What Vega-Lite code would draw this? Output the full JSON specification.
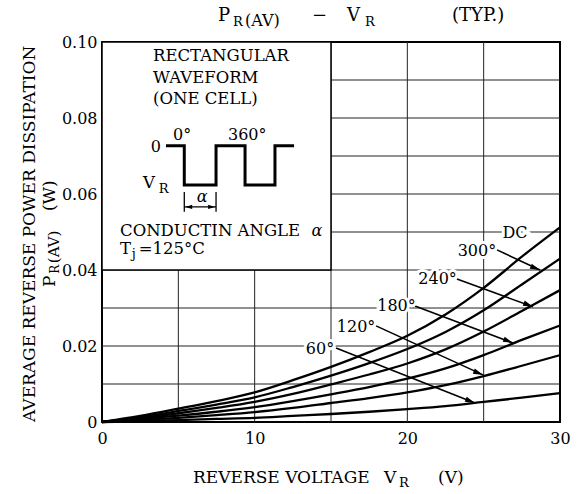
{
  "$schema": "https://vega.github.io/schema/vega-lite/v6.json",
  "width": 458,
  "height": 380,
  "autosize": {"type": "none"},
  "padding": {"left": 102, "top": 42, "right": 19, "bottom": 72},
  "background": "white",
  "config": {
    "font": "DejaVu Serif",
    "view": {"stroke": "#000", "strokeWidth": 2},
    "axis": {"domain": false, "ticks": false, "grid": false, "labelColor": "#000", "labelFont": "DejaVu Serif", "labelFontSize": 16, "labelOverlap": false, "title": null}
  },
  "datasets": {
    "vgrid": [{"x": 5}, {"x": 10}, {"x": 15}, {"x": 20}, {"x": 25}],
    "hgrid": [{"y": 0.01}, {"y": 0.02}, {"y": 0.03}, {"y": 0.04}, {"y": 0.05}, {"y": 0.06}, {"y": 0.07}, {"y": 0.08}, {"y": 0.09}],
    "box": [{"x": 0, "x2": 15, "y": 0.04, "y2": 0.1}],
    "curves": [
      {"c": "DC", "x": 0, "y": 0}, {"c": "DC", "x": 2.5, "y": 0.0016}, {"c": "DC", "x": 5, "y": 0.0035}, {"c": "DC", "x": 7.5, "y": 0.0055}, {"c": "DC", "x": 10, "y": 0.0078}, {"c": "DC", "x": 12.5, "y": 0.011}, {"c": "DC", "x": 15, "y": 0.0145}, {"c": "DC", "x": 17.5, "y": 0.0184}, {"c": "DC", "x": 20, "y": 0.0227}, {"c": "DC", "x": 22.5, "y": 0.0283}, {"c": "DC", "x": 25, "y": 0.0353}, {"c": "DC", "x": 27.5, "y": 0.0435}, {"c": "DC", "x": 30, "y": 0.0512},
      {"c": "300", "x": 0, "y": 0}, {"c": "300", "x": 2.5, "y": 0.0013}, {"c": "300", "x": 5, "y": 0.0029}, {"c": "300", "x": 7.5, "y": 0.0046}, {"c": "300", "x": 10, "y": 0.0065}, {"c": "300", "x": 12.5, "y": 0.0092}, {"c": "300", "x": 15, "y": 0.0122}, {"c": "300", "x": 17.5, "y": 0.0155}, {"c": "300", "x": 20, "y": 0.0192}, {"c": "300", "x": 22.5, "y": 0.0237}, {"c": "300", "x": 25, "y": 0.0294}, {"c": "300", "x": 27.5, "y": 0.0362}, {"c": "300", "x": 30, "y": 0.043},
      {"c": "240", "x": 0, "y": 0}, {"c": "240", "x": 2.5, "y": 0.0011}, {"c": "240", "x": 5, "y": 0.0023}, {"c": "240", "x": 7.5, "y": 0.0037}, {"c": "240", "x": 10, "y": 0.0053}, {"c": "240", "x": 12.5, "y": 0.0074}, {"c": "240", "x": 15, "y": 0.0099}, {"c": "240", "x": 17.5, "y": 0.0125}, {"c": "240", "x": 20, "y": 0.0154}, {"c": "240", "x": 22.5, "y": 0.0191}, {"c": "240", "x": 25, "y": 0.0238}, {"c": "240", "x": 27.5, "y": 0.0292}, {"c": "240", "x": 30, "y": 0.0347},
      {"c": "180", "x": 0, "y": 0}, {"c": "180", "x": 2.5, "y": 0.0008}, {"c": "180", "x": 5, "y": 0.0017}, {"c": "180", "x": 7.5, "y": 0.0027}, {"c": "180", "x": 10, "y": 0.0039}, {"c": "180", "x": 12.5, "y": 0.0055}, {"c": "180", "x": 15, "y": 0.0073}, {"c": "180", "x": 17.5, "y": 0.0092}, {"c": "180", "x": 20, "y": 0.0114}, {"c": "180", "x": 22.5, "y": 0.0141}, {"c": "180", "x": 25, "y": 0.0176}, {"c": "180", "x": 27.5, "y": 0.0216}, {"c": "180", "x": 30, "y": 0.0254},
      {"c": "120", "x": 0, "y": 0}, {"c": "120", "x": 2.5, "y": 0.0005}, {"c": "120", "x": 5, "y": 0.0011}, {"c": "120", "x": 7.5, "y": 0.0018}, {"c": "120", "x": 10, "y": 0.0026}, {"c": "120", "x": 12.5, "y": 0.0037}, {"c": "120", "x": 15, "y": 0.005}, {"c": "120", "x": 17.5, "y": 0.0063}, {"c": "120", "x": 20, "y": 0.0078}, {"c": "120", "x": 22.5, "y": 0.0097}, {"c": "120", "x": 25, "y": 0.0121}, {"c": "120", "x": 27.5, "y": 0.0148}, {"c": "120", "x": 30, "y": 0.0176},
      {"c": "60", "x": 0, "y": 0}, {"c": "60", "x": 2.5, "y": 0.0002}, {"c": "60", "x": 5, "y": 0.0005}, {"c": "60", "x": 7.5, "y": 0.0008}, {"c": "60", "x": 10, "y": 0.0011}, {"c": "60", "x": 12.5, "y": 0.0016}, {"c": "60", "x": 15, "y": 0.0021}, {"c": "60", "x": 17.5, "y": 0.0027}, {"c": "60", "x": 20, "y": 0.0034}, {"c": "60", "x": 22.5, "y": 0.0042}, {"c": "60", "x": 25, "y": 0.0053}, {"c": "60", "x": 27.5, "y": 0.0064}, {"c": "60", "x": 30, "y": 0.0076}
    ],
    "curveLabels": [
      {"x": 27.05, "y": 0.0497, "t": "DC"},
      {"x": 24.56, "y": 0.0451, "t": "300°"},
      {"x": 21.98, "y": 0.0376, "t": "240°"},
      {"x": 19.29, "y": 0.0305, "t": "180°"},
      {"x": 16.64, "y": 0.0249, "t": "120°"},
      {"x": 14.28, "y": 0.0193, "t": "60°"}
    ],
    "arrows": [
      {"x": 25.87, "y": 0.0453, "x2": 28.69, "y2": 0.04},
      {"x": 23.25, "y": 0.0376, "x2": 28.23, "y2": 0.0303},
      {"x": 20.5, "y": 0.0305, "x2": 26.92, "y2": 0.0208},
      {"x": 17.95, "y": 0.0253, "x2": 24.96, "y2": 0.0124},
      {"x": 15.33, "y": 0.0195, "x2": 24.43, "y2": 0.005}
    ],
    "arrowTips": [
      {"x": 28.69, "y": 0.04}, {"x": 28.23, "y": 0.0303}, {"x": 26.92, "y": 0.0208}, {"x": 24.96, "y": 0.0124}, {"x": 24.43, "y": 0.005}
    ],
    "wave": [
      {"i": 0, "x": 4.19, "y": 0.0727}, {"i": 1, "x": 5.39, "y": 0.0727}, {"i": 2, "x": 5.39, "y": 0.0624}, {"i": 3, "x": 7.47, "y": 0.0624}, {"i": 4, "x": 7.47, "y": 0.0727}, {"i": 5, "x": 9.37, "y": 0.0727}, {"i": 6, "x": 9.37, "y": 0.0624}, {"i": 7, "x": 11.33, "y": 0.0624}, {"i": 8, "x": 11.33, "y": 0.0727}, {"i": 9, "x": 12.58, "y": 0.0727}
    ],
    "dimRules": [
      {"x": 5.39, "y": 0.0605, "x2": 5.39, "y2": 0.0553},
      {"x": 7.47, "y": 0.0605, "x2": 7.47, "y2": 0.0553},
      {"x": 5.39, "y": 0.0566, "x2": 7.47, "y2": 0.0566}
    ],
    "dimLeft": [{"x": 5.45, "y": 0.0566}],
    "dimRight": [{"x": 7.41, "y": 0.0566}],
    "insetText": [
      {"x": 3.34, "y": 0.095, "t": "RECTANGULAR"},
      {"x": 3.34, "y": 0.0891, "t": "WAVEFORM"},
      {"x": 3.34, "y": 0.0837, "t": "(ONE CELL)"},
      {"x": 1.18, "y": 0.0489, "t": "CONDUCTIN ANGLE"},
      {"x": 1.18, "y": 0.0442, "t": "T"},
      {"x": 2.4, "y": 0.0442, "t": "=125°C"},
      {"x": 2.69, "y": 0.0616, "t": "V"}
    ],
    "waveLabels": [
      {"x": 4.65, "y": 0.0742, "t": "0°"},
      {"x": 8.25, "y": 0.0742, "t": "360°"},
      {"x": 3.2, "y": 0.0711, "t": "0"}
    ],
    "subs12": [
      {"x": 1.95, "y": 0.0432, "t": "j"},
      {"x": 3.72, "y": 0.0603, "t": "R"},
      {"x": 8.58, "y": 0.1042, "t": "R"},
      {"x": 17.23, "y": 0.1042, "t": "R"},
      {"x": 19.45, "y": -0.0171, "t": "R"}
    ],
    "alphas": [
      {"x": 13.72, "y": 0.0489, "t": "α"},
      {"x": 6.2, "y": 0.0578, "t": "α"}
    ],
    "title17": [
      {"x": 7.6, "y": 0.10553, "t": "P"},
      {"x": 13.76, "y": 0.10553, "t": "−"},
      {"x": 16.05, "y": 0.10553, "t": "V"},
      {"x": 22.93, "y": 0.10553, "t": "(TYP.)"}
    ],
    "title15": [
      {"x": 9.37, "y": 0.1042, "t": "(AV)"}
    ],
    "xTitle": [
      {"x": 5.96, "y": -0.0161, "t": "REVERSE VOLTAGE"},
      {"x": 18.47, "y": -0.0161, "t": "V"},
      {"x": 22.01, "y": -0.0161, "t": "(V)"}
    ],
    "yTitle1": [{"x": -4.39, "y": 0.0495, "t": "AVERAGE REVERSE POWER DISSIPATION"}],
    "yTitle2": [
      {"x": -3.08, "y": 0.0355, "t": "P"},
      {"x": -3.08, "y": 0.0555, "t": "(W)"}
    ],
    "yTitle2sub": [{"x": -2.82, "y": 0.039, "t": "R"}],
    "yTitle2av": [{"x": -2.82, "y": 0.0418, "t": "(AV)"}]
  },
  "layer": [
    {
      "data": {"name": "vgrid"},
      "mark": {"type": "rule", "color": "#222", "strokeWidth": 1},
      "encoding": {
        "x": {"field": "x", "type": "quantitative", "scale": {"domain": [0, 30], "nice": false, "zero": false},
          "axis": {"values": [0, 10, 20, 30], "labelFlush": false, "labelPadding": 8, "title": null}}
      }
    },
    {
      "data": {"name": "hgrid"},
      "mark": {"type": "rule", "color": "#222", "strokeWidth": 1},
      "encoding": {
        "y": {"field": "y", "type": "quantitative", "scale": {"domain": [0, 0.1], "nice": false, "zero": false},
          "axis": {"values": [0, 0.02, 0.04, 0.06, 0.08, 0.1], "labelExpr": "datum.value == 0 ? '0' : format(datum.value, '.2f')", "labelPadding": 5, "labelFlush": false, "title": null}}
      }
    },
    {
      "data": {"name": "box"},
      "mark": {"type": "rect", "fill": "white", "stroke": "#000", "strokeWidth": 1.5},
      "encoding": {
        "x": {"field": "x", "type": "quantitative"},
        "x2": {"field": "x2"},
        "y": {"field": "y", "type": "quantitative"},
        "y2": {"field": "y2"}
      }
    },
    {
      "data": {"name": "curves"},
      "mark": {"type": "line", "color": "#000", "strokeWidth": 2.3, "interpolate": "monotone"},
      "encoding": {
        "x": {"field": "x", "type": "quantitative"},
        "y": {"field": "y", "type": "quantitative"},
        "detail": {"field": "c"}
      }
    },
    {
      "data": {"name": "arrows"},
      "mark": {"type": "rule", "color": "#000", "strokeWidth": 1.6},
      "encoding": {
        "x": {"field": "x", "type": "quantitative"},
        "y": {"field": "y", "type": "quantitative"},
        "x2": {"field": "x2"}, "y2": {"field": "y2"}
      }
    },
    {
      "data": {"name": "arrowTips"},
      "mark": {"type": "point", "shape": "M0,0L-2,-0.55L-2,0.55Z", "filled": true, "color": "#000", "opacity": 1, "size": 100, "angle": 22},
      "encoding": {
        "x": {"field": "x", "type": "quantitative"},
        "y": {"field": "y", "type": "quantitative"}
      }
    },
    {
      "data": {"name": "curveLabels"},
      "mark": {"type": "text", "fill": "white", "stroke": "white", "strokeWidth": 6, "fontSize": 16, "align": "center", "baseline": "middle"},
      "encoding": {
        "x": {"field": "x", "type": "quantitative"},
        "y": {"field": "y", "type": "quantitative"},
        "text": {"field": "t"}
      }
    },
    {
      "data": {"name": "curveLabels"},
      "mark": {"type": "text", "fill": "#000", "fontSize": 16, "align": "center", "baseline": "middle"},
      "encoding": {
        "x": {"field": "x", "type": "quantitative"},
        "y": {"field": "y", "type": "quantitative"},
        "text": {"field": "t"}
      }
    },
    {
      "data": {"name": "wave"},
      "mark": {"type": "line", "color": "#000", "strokeWidth": 3, "strokeJoin": "miter", "strokeCap": "butt"},
      "encoding": {
        "x": {"field": "x", "type": "quantitative"},
        "y": {"field": "y", "type": "quantitative"},
        "order": {"field": "i"}
      }
    },
    {
      "data": {"name": "dimRules"},
      "mark": {"type": "rule", "color": "#000", "strokeWidth": 1.3},
      "encoding": {
        "x": {"field": "x", "type": "quantitative"},
        "y": {"field": "y", "type": "quantitative"},
        "x2": {"field": "x2"}, "y2": {"field": "y2"}
      }
    },
    {
      "data": {"name": "dimLeft"},
      "mark": {"type": "point", "shape": "M0,0L2,-0.6L2,0.6Z", "filled": true, "color": "#000", "opacity": 1, "size": 49},
      "encoding": {
        "x": {"field": "x", "type": "quantitative"},
        "y": {"field": "y", "type": "quantitative"}
      }
    },
    {
      "data": {"name": "dimRight"},
      "mark": {"type": "point", "shape": "M0,0L-2,-0.6L-2,0.6Z", "filled": true, "color": "#000", "opacity": 1, "size": 49},
      "encoding": {
        "x": {"field": "x", "type": "quantitative"},
        "y": {"field": "y", "type": "quantitative"}
      }
    },
    {
      "data": {"name": "insetText"},
      "mark": {"type": "text", "fill": "#000", "fontSize": 16.5, "align": "left", "baseline": "alphabetic"},
      "encoding": {
        "x": {"field": "x", "type": "quantitative"},
        "y": {"field": "y", "type": "quantitative"},
        "text": {"field": "t"}
      }
    },
    {
      "data": {"name": "waveLabels"},
      "mark": {"type": "text", "fill": "#000", "fontSize": 16, "align": "left", "baseline": "alphabetic"},
      "encoding": {
        "x": {"field": "x", "type": "quantitative"},
        "y": {"field": "y", "type": "quantitative"},
        "text": {"field": "t"}
      }
    },
    {
      "data": {"name": "subs12"},
      "mark": {"type": "text", "fill": "#000", "fontSize": 13, "align": "left", "baseline": "alphabetic"},
      "encoding": {
        "x": {"field": "x", "type": "quantitative"},
        "y": {"field": "y", "type": "quantitative"},
        "text": {"field": "t"}
      }
    },
    {
      "data": {"name": "alphas"},
      "mark": {"type": "text", "fill": "#000", "fontSize": 16, "fontStyle": "italic", "align": "left", "baseline": "alphabetic"},
      "encoding": {
        "x": {"field": "x", "type": "quantitative"},
        "y": {"field": "y", "type": "quantitative"},
        "text": {"field": "t"}
      }
    },
    {
      "data": {"name": "title17"},
      "mark": {"type": "text", "fill": "#000", "fontSize": 18, "align": "left", "baseline": "alphabetic"},
      "encoding": {
        "x": {"field": "x", "type": "quantitative"},
        "y": {"field": "y", "type": "quantitative"},
        "text": {"field": "t"}
      }
    },
    {
      "data": {"name": "title15"},
      "mark": {"type": "text", "fill": "#000", "fontSize": 16, "align": "left", "baseline": "alphabetic"},
      "encoding": {
        "x": {"field": "x", "type": "quantitative"},
        "y": {"field": "y", "type": "quantitative"},
        "text": {"field": "t"}
      }
    },
    {
      "data": {"name": "xTitle"},
      "mark": {"type": "text", "fill": "#000", "fontSize": 17, "align": "left", "baseline": "alphabetic"},
      "encoding": {
        "x": {"field": "x", "type": "quantitative"},
        "y": {"field": "y", "type": "quantitative"},
        "text": {"field": "t"}
      }
    },
    {
      "data": {"name": "yTitle1"},
      "mark": {"type": "text", "fill": "#000", "fontSize": 17, "angle": 270, "align": "center", "baseline": "alphabetic"},
      "encoding": {
        "x": {"field": "x", "type": "quantitative"},
        "y": {"field": "y", "type": "quantitative"},
        "text": {"field": "t"}
      }
    },
    {
      "data": {"name": "yTitle2"},
      "mark": {"type": "text", "fill": "#000", "fontSize": 17, "angle": 270, "align": "left", "baseline": "alphabetic"},
      "encoding": {
        "x": {"field": "x", "type": "quantitative"},
        "y": {"field": "y", "type": "quantitative"},
        "text": {"field": "t"}
      }
    },
    {
      "data": {"name": "yTitle2sub"},
      "mark": {"type": "text", "fill": "#000", "fontSize": 12, "angle": 270, "align": "left", "baseline": "alphabetic"},
      "encoding": {
        "x": {"field": "x", "type": "quantitative"},
        "y": {"field": "y", "type": "quantitative"},
        "text": {"field": "t"}
      }
    },
    {
      "data": {"name": "yTitle2av"},
      "mark": {"type": "text", "fill": "#000", "fontSize": 15, "angle": 270, "align": "left", "baseline": "alphabetic"},
      "encoding": {
        "x": {"field": "x", "type": "quantitative"},
        "y": {"field": "y", "type": "quantitative"},
        "text": {"field": "t"}
      }
    }
  ]
}
